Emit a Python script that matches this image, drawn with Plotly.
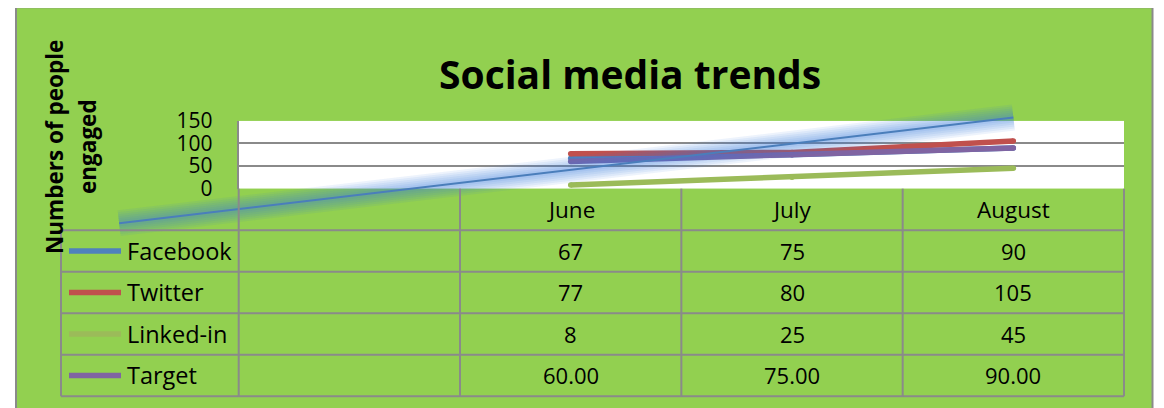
import plotly.graph_objects as go

# ---------------- data ----------------
categories = ["", "June", "July", "August"]      # first category is blank in the source
series_names = ["Facebook", "Twitter", "Linked-in", "Target"]
facebook = [67, 75, 90]
twitter = [77, 80, 105]
linkedin = [8, 25, 45]
target = [60.00, 75.00, 90.00]
series_values = [facebook, twitter, linkedin, target]
series_decimals = [0, 0, 0, 2]
series_colors = ["#4F81BD", "#C0504D", "#9BBB59", "#8064A2"]
y_ticks = [0, 50, 100, 150]
# hand-drawn glowing highlight line (category index, value)
highlight_x = [-1.04, 3.0]
highlight_y = [-76, 157]

title_text = "Social media trends"
ytitle_lines = ["Numbers of people", "engaged"]

# ---------------- geometry (page pixels) ----------------
W, H = 1164, 408
OFF = 8            # page body margin around the plot div
FONT = "Open Sans"
GREEN = "#92D050"
GRAY = "#8A8A8A"

PLOT_L, PLOT_R = 238.7, 1124.0
PLOT_TOP, PLOT_BOT = 120.7, 188.7
Y_MAX = 150
X_RANGE = [-0.5, 3.5]
sx = (PLOT_R - PLOT_L) / (X_RANGE[1] - X_RANGE[0])
sy = (PLOT_BOT - PLOT_TOP) / Y_MAX

TABLE_L = 61.0
ROW_H = 41.5


def px(x):
    return (x - OFF) / W


def py(y):
    return 1 - (y - OFF) / H


# overlay axes spanning the whole figure, same scale as the main axes
x2_range = [X_RANGE[0] - (PLOT_L - OFF) / sx, X_RANGE[1] + (W + OFF - PLOT_R) / sx]
y2_range = [-(H + OFF - PLOT_BOT) / sy, Y_MAX + (PLOT_TOP - OFF) / sy]


def cat_px(c):
    return PLOT_L + (c - X_RANGE[0]) * sx


month_idx = [categories.index(m) for m in categories if m]

fig = go.Figure()

for name, vals, col in zip(series_names, series_values, series_colors):
    fig.add_trace(go.Scatter(
        x=month_idx, y=vals, mode="lines+markers", name=name,
        line=dict(color=col, width=5.5),
        marker=dict(color=col, size=5.5),
        xaxis="x2", yaxis="y2", cliponaxis=False, showlegend=False,
        hoverinfo="skip"))

# soft glow of the highlight line
for w in [26, 22, 18, 14, 10, 6]:
    fig.add_trace(go.Scatter(
        x=highlight_x, y=highlight_y, mode="lines",
        line=dict(color="rgba(50,120,220,0.09)", width=w),
        xaxis="x2", yaxis="y2", showlegend=False, hoverinfo="skip"))
fig.add_trace(go.Scatter(
    x=highlight_x, y=highlight_y, mode="lines",
    line=dict(color="#4A7EBB", width=2),
    xaxis="x2", yaxis="y2", showlegend=False, hoverinfo="skip"))

shapes = []
shapes.append(dict(type="rect", xref="paper", yref="paper", layer="below",
                   x0=px(16), x1=px(1152.5), y0=py(430), y1=py(7.3),
                   fillcolor=GREEN, line=dict(color=GRAY, width=2)))
shapes.append(dict(type="rect", xref="x", yref="y", layer="below",
                   x0=X_RANGE[0], x1=X_RANGE[1], y0=0, y1=Y_MAX,
                   fillcolor="white", line=dict(width=0)))

n_rows = len(series_names)
row_tops = [PLOT_BOT + ROW_H * (i + 1) for i in range(n_rows)]
table_bot = PLOT_BOT + ROW_H * (n_rows + 1)

for i in range(n_rows + 1):
    y = PLOT_BOT + ROW_H * (i + 1)
    shapes.append(dict(type="line", xref="paper", yref="paper", layer="above",
                       x0=px(TABLE_L), x1=px(PLOT_R), y0=py(y), y1=py(y),
                       line=dict(color=GRAY, width=2)))
shapes.append(dict(type="line", xref="paper", yref="paper", layer="above",
                   x0=px(TABLE_L), x1=px(TABLE_L), y0=py(row_tops[0]), y1=py(table_bot),
                   line=dict(color=GRAY, width=2)))
for c in range(len(categories) + 1):
    xx = cat_px(X_RANGE[0] + c)
    shapes.append(dict(type="line", xref="paper", yref="paper", layer="above",
                       x0=px(xx), x1=px(xx), y0=py(PLOT_BOT), y1=py(table_bot),
                       line=dict(color=GRAY, width=2)))
for i, col in enumerate(series_colors):
    yc = row_tops[i] + ROW_H / 2
    shapes.append(dict(type="line", xref="paper", yref="paper", layer="above",
                       x0=px(69), x1=px(121), y0=py(yc), y1=py(yc),
                       line=dict(color=col, width=5.5)))

annotations = []
annotations.append(dict(text=f"<b>{title_text}</b>", xref="paper", yref="paper",
                        x=px(630), y=py(73), showarrow=False,
                        xanchor="center", yanchor="middle",
                        font=dict(family=FONT, size=39, color="black")))
for txt, xx in zip(ytitle_lines, [54, 87]):
    annotations.append(dict(text=f"<b>{txt}</b>", xref="paper", yref="paper",
                            x=px(xx), y=py(147), showarrow=False, textangle=-90,
                            xanchor="center", yanchor="middle",
                            font=dict(family=FONT, size=22.5, color="black")))
for c, cat in enumerate(categories):
    if not cat:
        continue
    annotations.append(dict(text=cat, xref="paper", yref="paper",
                            x=px(cat_px(c)), y=py(PLOT_BOT + ROW_H / 2),
                            showarrow=False, xanchor="center", yanchor="middle",
                            font=dict(family=FONT, size=22.5, color="black")))
for i, (name, vals, dec) in enumerate(zip(series_names, series_values, series_decimals)):
    yc = row_tops[i] + ROW_H / 2
    annotations.append(dict(text=name, xref="paper", yref="paper",
                            x=px(125), y=py(yc), showarrow=False,
                            xanchor="left", yanchor="middle",
                            font=dict(family=FONT, size=23.5, color="black")))
    for c, v in zip(month_idx, vals):
        annotations.append(dict(text=f"{v:.{dec}f}", xref="paper", yref="paper",
                                x=px(cat_px(c)), y=py(yc), showarrow=False,
                                xanchor="center", yanchor="middle",
                                font=dict(family=FONT, size=22, color="black")))

fig.update_layout(
    width=W, height=H,
    margin=dict(l=0, r=0, t=0, b=0, pad=0, autoexpand=False),
    paper_bgcolor="white",
    plot_bgcolor="rgba(0,0,0,0)",
    showlegend=False,
    xaxis=dict(domain=[px(PLOT_L), px(PLOT_R)], range=X_RANGE, anchor="y",
               showgrid=False, zeroline=False, showticklabels=False,
               showline=False, ticks="", fixedrange=True, automargin=False),
    yaxis=dict(domain=[py(PLOT_BOT), py(PLOT_TOP)], range=[0, Y_MAX], anchor="x",
               tickvals=y_ticks, showgrid=True, gridcolor=GRAY, gridwidth=2,
               zeroline=False, showline=True, linecolor=GRAY, linewidth=2,
               ticks="", ticklabelstandoff=20, automargin=False,
               tickfont=dict(family=FONT, size=21, color="black"), fixedrange=True),
    xaxis2=dict(domain=[0, 1], range=x2_range, anchor="y2", visible=False,
                fixedrange=True, automargin=False),
    yaxis2=dict(domain=[0, 1], range=y2_range, anchor="x2", visible=False,
                fixedrange=True, automargin=False),
    shapes=shapes,
    annotations=annotations,
)

fig.write_html("out.html")
